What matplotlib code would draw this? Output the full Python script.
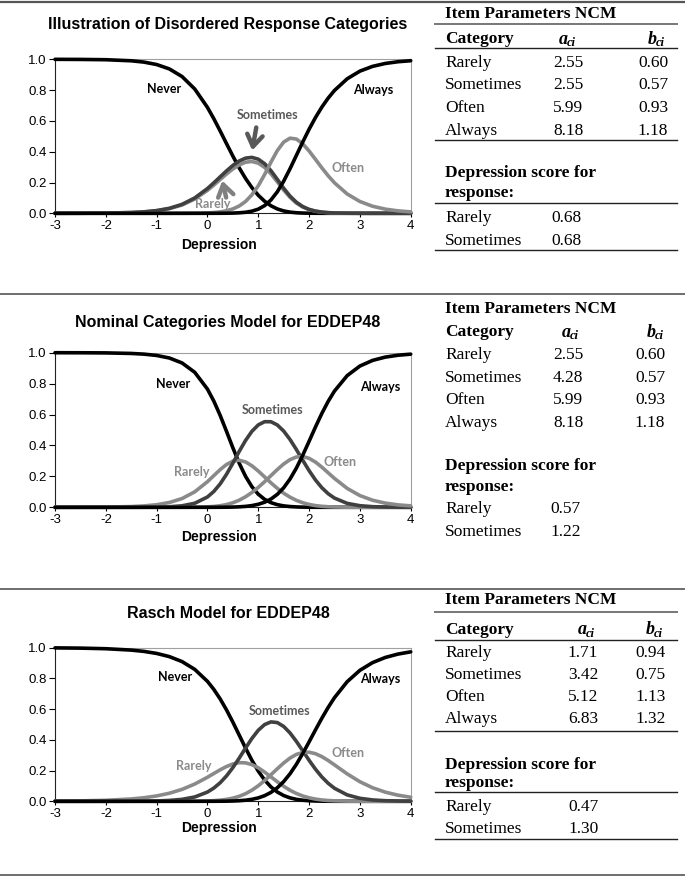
"""
Category response curves for EDDEP48 with item parameter tables
"""

import matplotlib
matplotlib.use('Agg')
import matplotlib.pyplot as plt
from matplotlib.lines import Line2D

W, H = 685, 883

# Depression (theta) grid on which curves were read
theta = [-3, -2.5, -2, -1.5, -1.25, -1, -0.75, -0.5, -0.25, 0,
         0.125, 0.25, 0.375, 0.5, 0.625, 0.75, 0.875, 1, 1.125, 1.25,
         1.375, 1.5, 1.625, 1.75, 1.875, 2, 2.125, 2.25, 2.375, 2.5,
         2.75, 3, 3.25, 3.5, 3.75, 4]

# Panel 1 - illustration of disordered categories
illus_never = [0.9998, 0.9992, 0.9973, 0.9903, 0.9818, 0.9660, 0.9376, 0.8881, 0.8072, 0.6877,
               0.6144, 0.5349, 0.4527, 0.3716, 0.2952, 0.2263, 0.1668, 0.1174, 0.0782, 0.0488,
               0.0283, 0.0152, 0.0076, 0.0035, 0.0016, 0.0007, 0.0003, 0.0001, 0, 0,
               0, 0, 0, 0, 0, 0]
illus_rarely = [0.0001, 0.0004, 0.0013, 0.0047, 0.0088, 0.0163, 0.0300, 0.0537, 0.0924, 0.1489,
                0.1830, 0.2191, 0.2551, 0.2879, 0.3146, 0.3318, 0.3364, 0.3256, 0.2983, 0.2561,
                0.2043, 0.1510, 0.1036, 0.0666, 0.0406, 0.0237, 0.0133, 0.0073, 0.0039, 0.0021,
                0.0006, 0.0001, 0, 0, 0, 0]
illus_sometimes = [0.0001, 0.0004, 0.0014, 0.0051, 0.0095, 0.0176, 0.0324, 0.0580, 0.0997, 0.1608,
                   0.1975, 0.2366, 0.2753, 0.3108, 0.3396, 0.3582, 0.3631, 0.3515, 0.3221, 0.2765,
                   0.2206, 0.1630, 0.1118, 0.0719, 0.0438, 0.0255, 0.0144, 0.0079, 0.0042, 0.0022,
                   0.0006, 0.0002, 0, 0, 0, 0]
illus_often = [0, 0, 0, 0, 0, 0, 0, 0.0002, 0.0007, 0.0026,
               0.0050, 0.0091, 0.0163, 0.0283, 0.0475, 0.0770, 0.1200, 0.1786, 0.2515, 0.3320,
               0.4072, 0.4624, 0.4878, 0.4822, 0.4515, 0.4048, 0.3507, 0.2957, 0.2441, 0.1980,
               0.1254, 0.0767, 0.0458, 0.0270, 0.0158, 0.0092]
illus_always = [0, 0, 0, 0, 0, 0, 0, 0, 0, 0,
                0.0001, 0.0003, 0.0006, 0.0014, 0.0032, 0.0067, 0.0138, 0.0269, 0.0499, 0.0866,
                0.1396, 0.2085, 0.2892, 0.3758, 0.4626, 0.5454, 0.6213, 0.6889, 0.7477, 0.7977,
                0.8734, 0.9231, 0.9541, 0.9730, 0.9842, 0.9908]

# Panel 2 - nominal categories model
ncm_never = [0.9999, 0.9996, 0.9987, 0.9952, 0.9907, 0.9822, 0.9657, 0.9337, 0.8732, 0.7647,
             0.6873, 0.5948, 0.4914, 0.3852, 0.2855, 0.2001, 0.1332, 0.0846, 0.0515, 0.0301,
             0.0170, 0.0092, 0.0048, 0.0024, 0.0011, 0.0005, 0.0002, 0.0001, 0, 0,
             0, 0, 0, 0, 0, 0]
ncm_rarely = [0.0001, 0.0004, 0.0013, 0.0047, 0.0089, 0.0166, 0.0309, 0.0565, 0.1000, 0.1656,
              0.2047, 0.2436, 0.2769, 0.2985, 0.3043, 0.2934, 0.2686, 0.2346, 0.1964, 0.1581,
              0.1226, 0.0914, 0.0655, 0.0450, 0.0295, 0.0185, 0.0111, 0.0064, 0.0036, 0.0020,
              0.0005, 0.0001, 0, 0, 0, 0]
ncm_sometimes = [0, 0, 0, 0.0001, 0.0004, 0.0012, 0.0034, 0.0096, 0.0261, 0.0667,
                 0.1023, 0.1512, 0.2133, 0.2855, 0.3613, 0.4324, 0.4914, 0.5328, 0.5538, 0.5534,
                 0.5326, 0.4932, 0.4386, 0.3737, 0.3045, 0.2373, 0.1771, 0.1271, 0.0882, 0.0595,
                 0.0254, 0.0103, 0.0040, 0.0016, 0.0006, 0.0002]
ncm_often = [0, 0, 0, 0, 0, 0, 0, 0.0002, 0.0007, 0.0029,
             0.0055, 0.0101, 0.0177, 0.0293, 0.0459, 0.0681, 0.0958, 0.1286, 0.1656, 0.2049,
             0.2442, 0.2800, 0.3084, 0.3254, 0.3284, 0.3168, 0.2928, 0.2602, 0.2235, 0.1867,
             0.1223, 0.0759, 0.0456, 0.0270, 0.0158, 0.0092]
ncm_always = [0, 0, 0, 0, 0, 0, 0, 0, 0, 0,
              0.0001, 0.0003, 0.0007, 0.0015, 0.0031, 0.0059, 0.0110, 0.0194, 0.0328, 0.0534,
              0.0837, 0.1262, 0.1828, 0.2536, 0.3365, 0.4268, 0.5187, 0.6062, 0.6847, 0.7519,
              0.8517, 0.9137, 0.9503, 0.9715, 0.9836, 0.9906]

# Panel 3 - Rasch model
rasch_never = [0.9988, 0.9972, 0.9934, 0.9844, 0.9759, 0.9627, 0.9420, 0.9096, 0.8589, 0.7809,
               0.7288, 0.6667, 0.5951, 0.5155, 0.4311, 0.3465, 0.2669, 0.1966, 0.1386, 0.0935,
               0.0605, 0.0375, 0.0223, 0.0128, 0.0070, 0.0037, 0.0019, 0.0009, 0.0005, 0.0002,
               0, 0, 0, 0, 0, 0]
rasch_rarely = [0.0012, 0.0028, 0.0065, 0.0152, 0.0231, 0.0349, 0.0524, 0.0776, 0.1123, 0.1565,
                0.1809, 0.2049, 0.2265, 0.2429, 0.2516, 0.2504, 0.2388, 0.2179, 0.1901, 0.1589,
                0.1272, 0.0977, 0.0720, 0.0510, 0.0347, 0.0228, 0.0144, 0.0088, 0.0053, 0.0031,
                0.0010, 0.0003, 0.0001, 0, 0, 0]
rasch_sometimes = [0, 0, 0.0001, 0.0005, 0.0010, 0.0024, 0.0056, 0.0127, 0.0281, 0.0601,
                   0.0860, 0.1206, 0.1651, 0.2192, 0.2811, 0.3465, 0.4092, 0.4623, 0.4996, 0.5169,
                   0.5125, 0.4874, 0.4450, 0.3902, 0.3291, 0.2672, 0.2095, 0.1591, 0.1175, 0.0848,
                   0.0417, 0.0195, 0.0088, 0.0039, 0.0017, 0.0007]
rasch_often = [0, 0, 0, 0, 0, 0, 0.0001, 0.0002, 0.0007, 0.0024,
               0.0042, 0.0074, 0.0125, 0.0205, 0.0325, 0.0495, 0.0723, 0.1011, 0.1351, 0.1728,
               0.2119, 0.2493, 0.2815, 0.3053, 0.3183, 0.3197, 0.3100, 0.2911, 0.2659, 0.2372,
               0.1786, 0.1275, 0.0881, 0.0596, 0.0398, 0.0263]
rasch_always = [0, 0, 0, 0, 0, 0, 0, 0, 0, 0.0001,
                0.0002, 0.0005, 0.0009, 0.0019, 0.0037, 0.0071, 0.0128, 0.0221, 0.0366, 0.0580,
                0.0880, 0.1282, 0.1792, 0.2407, 0.3109, 0.3866, 0.4642, 0.5400, 0.6108, 0.6747,
                0.7787, 0.8527, 0.9030, 0.9365, 0.9585, 0.9730]

# Table contents
categories = ['Rarely', 'Sometimes', 'Often', 'Always']
score_labels = ['Rarely', 'Sometimes']
illus_a = [2.55, 2.55, 5.99, 8.18]
illus_b = [0.60, 0.57, 0.93, 1.18]
illus_score = [0.68, 0.68]
ncm_a = [2.55, 4.28, 5.99, 8.18]
ncm_b = [0.60, 0.57, 0.93, 1.18]
ncm_score = [0.57, 1.22]
rasch_a = [1.71, 3.42, 5.12, 6.83]
rasch_b = [0.94, 0.75, 1.13, 1.32]
rasch_score = [0.47, 1.30]

BLACK = '#000000'
DARK = '#404040'
LIGHT = '#8a8a8a'
SANS = 'Liberation Sans'
SERIF = 'Liberation Serif'
LABEL = 'Lato'

fig = plt.figure(figsize=(W / 100, H / 100), dpi=100)


def fx(px):
    return px / W


def fy(py):
    return 1 - py / H


def hline(y, x0=0, x1=W, color='#555555', lw=1.2):
    fig.add_artist(Line2D([fx(x0), fx(x1)], [fy(y), fy(y)], color=color, lw=lw,
                          transform=fig.transFigure))


def draw_panel(top, bottom, title, title_y, xlab_y, curves, labels):
    ax = fig.add_axes([fx(55), fy(bottom), (410.7 - 55) / W, (bottom - top) / H])
    for ys, color in curves:
        ax.plot(theta, ys, color=color, lw=2.6, solid_capstyle='round',
                solid_joinstyle='round', clip_on=False, zorder=3)
    ax.set_xlim(-3, 4)
    ax.set_ylim(0, 1)
    ax.set_xticks(range(-3, 5))
    yt = [0, 0.2, 0.4, 0.6, 0.8, 1.0]
    ax.set_yticks(yt)
    ax.set_yticklabels([f'{v:.1f}' for v in yt])
    ax.set_xticklabels([str(v) for v in range(-3, 5)])
    for lab in ax.get_xticklabels() + ax.get_yticklabels():
        lab.set_family(SANS)
        lab.set_fontsize(9.5)
    ax.tick_params(axis='y', length=4, width=0.8, pad=2)
    ax.tick_params(axis='x', length=3, width=0.8, pad=1.5)
    ax.spines['left'].set_color('#222222')
    ax.spines['bottom'].set_color('#222222')
    ax.spines['top'].set_color('#a0a0a0')
    ax.spines['right'].set_color('#a0a0a0')
    for text, x, y, color in labels:
        ax.text(x, y, text, ha='center', va='center', color=color, fontsize=9,
                family=LABEL, weight='bold', zorder=1)
    fig.text(fx(228), fy(title_y), title, ha='center', va='center', fontsize=11.5,
             weight='bold', family=SANS)
    fig.text(fx(219), fy(xlab_y), 'Depression', ha='center', va='center', fontsize=10,
             weight='bold', family=SANS)
    return ax


def param_header(x, y, letter):
    fig.text(fx(x), fy(y), letter, ha='left', va='center', fontsize=13,
             family=SERIF, weight='bold', style='italic')
    fig.text(fx(x + 8), fy(y + 4), 'ci', ha='left', va='center', fontsize=9,
             family=SERIF, weight='bold', style='italic')


def draw_table(a_vals, b_vals, scores, ys, xs, rules):
    left = 445
    kw = dict(fontsize=12.5, family=SERIF, va='center')
    fig.text(fx(left), fy(ys['title']), 'Item Parameters NCM', weight='bold', **kw)
    fig.text(fx(left), fy(ys['header']), 'Category', weight='bold', **kw)
    param_header(xs['a_hdr'], ys['header'], 'a')
    param_header(xs['b_hdr'], ys['header'], 'b')
    for cat, a, b, y in zip(categories, a_vals, b_vals, ys['rows']):
        fig.text(fx(left), fy(y), cat, **kw)
        fig.text(fx(xs['a_right']), fy(y), f'{a:.2f}', ha='right', **kw)
        fig.text(fx(xs['b_right']), fy(y), f'{b:.2f}', ha='right', **kw)
    fig.text(fx(left), fy(ys['dep']), 'Depression score for', weight='bold', **kw)
    fig.text(fx(left), fy(ys['resp']), 'response:', weight='bold', **kw)
    for lab, s, y in zip(score_labels, scores, ys['srows']):
        fig.text(fx(left), fy(y), lab, **kw)
        fig.text(fx(xs['score']), fy(y), f'{s:.2f}', ha='left', **kw)
    for i, y in enumerate(rules):
        if i == 0:
            hline(y, 435, 677, color='#777777', lw=1.4)
        else:
            hline(y, 435, 677, color='#222222', lw=1.0)


# Separating rules
hline(1.5, lw=1.6)
hline(293.5)
hline(588.5)
hline(874.5)

# Panel 1
ax1 = draw_panel(59.3, 213.3, 'Illustration of Disordered Response Categories', 25, 245,
                 [(illus_never, BLACK), (illus_rarely, LIGHT), (illus_sometimes, DARK),
                  (illus_often, LIGHT), (illus_always, BLACK)],
                 [('Never', -0.85, 0.807, BLACK), ('Always', 3.26, 0.80, BLACK),
                  ('Sometimes', 1.19, 0.638, '#595959'), ('Often', 2.77, 0.296, LIGHT),
                  ('Rarely', 0.11, 0.06, LIGHT)])
ax1.annotate('', xy=(0.872, 0.39), xytext=(0.97, 0.575),
             arrowprops=dict(arrowstyle='->, head_length=0.6, head_width=0.4',
                             lw=3.2, color='#595959', mutation_scale=14))
ax1.annotate('', xy=(0.28, 0.23), xytext=(0.38, 0.085),
             arrowprops=dict(arrowstyle='->, head_length=0.6, head_width=0.4',
                             lw=3.2, color='#808080', mutation_scale=14))

# Panel 2
draw_panel(352.7, 507.3, 'Nominal Categories Model for EDDEP48', 323, 537,
           [(ncm_never, BLACK), (ncm_rarely, LIGHT), (ncm_sometimes, DARK),
            (ncm_often, LIGHT), (ncm_always, BLACK)],
           [('Never', -0.67, 0.80, BLACK), ('Always', 3.40, 0.78, BLACK),
            ('Sometimes', 1.285, 0.63, '#595959'), ('Often', 2.61, 0.295, LIGHT),
            ('Rarely', -0.31, 0.23, LIGHT)])

# Panel 3
draw_panel(647.7, 801.3, 'Rasch Model for EDDEP48', 613, 828,
           [(rasch_never, BLACK), (rasch_rarely, LIGHT), (rasch_sometimes, DARK),
            (rasch_often, LIGHT), (rasch_always, BLACK)],
           [('Never', -0.64, 0.81, BLACK), ('Always', 3.40, 0.795, BLACK),
            ('Sometimes', 1.415, 0.588, '#595959'), ('Often', 2.775, 0.312, LIGHT),
            ('Rarely', -0.26, 0.232, LIGHT)])

# Tables
draw_table(illus_a, illus_b, illus_score,
           dict(title=14.5, header=39, rows=[62.7, 85, 108, 130.7], dep=173, resp=193,
                srows=[218, 240.7]),
           dict(a_hdr=559, b_hdr=648, a_right=583.3, b_right=668.3, score=551.7),
           [24, 48, 140, 202.7, 250])
draw_table(ncm_a, ncm_b, ncm_score,
           dict(title=309, header=332.3, rows=[355, 377.7, 400, 423.3], dep=465.7,
                resp=486.7, srows=[509, 532.3]),
           dict(a_hdr=561.7, b_hdr=646.7, a_right=583.3, b_right=665, score=550),
           [])
draw_table(rasch_a, rasch_b, rasch_score,
           dict(title=600, header=630, rows=[653, 675, 697, 719], dep=765,
                resp=783, srows=[807, 829]),
           dict(a_hdr=577.7, b_hdr=646, a_right=598.3, b_right=666, score=568.3),
           [612, 640, 731, 792, 839])

plt.savefig('out.png', dpi=100)
